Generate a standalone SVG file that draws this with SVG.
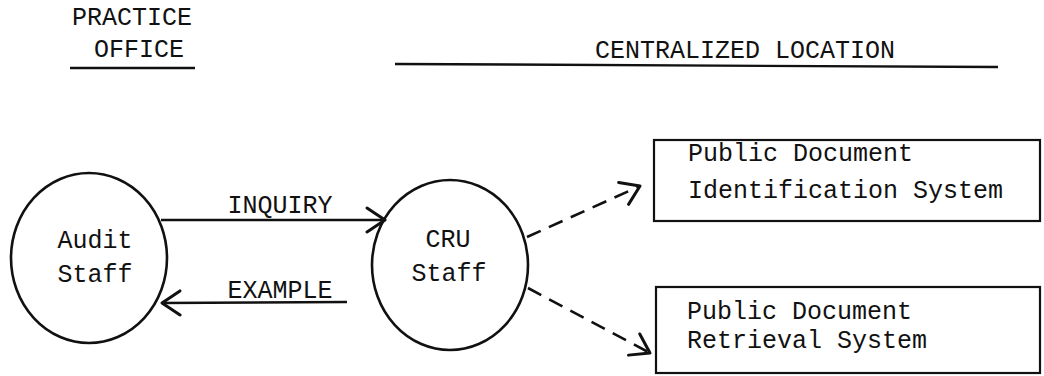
<svg xmlns="http://www.w3.org/2000/svg" width="1044" height="376" viewBox="0 0 1044 376">
<style>
text{font-family:"Liberation Mono","DejaVu Sans Mono",monospace;font-size:25px;fill:#111}
.c{text-anchor:middle}
.node{fill:#fff;stroke:#111;stroke-width:2.6}
.box{fill:#fff;stroke:#111;stroke-width:2.2}
.rule{stroke:#111;stroke-width:2.4}
.solid{fill:none;stroke:#111;stroke-width:2.6}
.dash{fill:none;stroke:#111;stroke-width:2.6;stroke-dasharray:15 9}
</style>
<defs>
<marker id="v" viewBox="-22 -14 26 28" markerWidth="26" markerHeight="28" refX="0" refY="0" orient="auto" markerUnits="userSpaceOnUse">
<path d="M-18,-12 L0,0 L-18,12" fill="none" stroke="#111" stroke-width="3" stroke-linecap="round" stroke-linejoin="round"/>
</marker>
</defs>
<rect width="1044" height="376" fill="#fff"/>
<g id="headers">
<text class="c" x="132" y="25">PRACTICE</text>
<text class="c" x="139" y="57">OFFICE</text>
<line class="rule" x1="70" y1="68" x2="195" y2="68"/>
<text x="595" y="58">CENTRALIZED LOCATION</text>
<line class="rule" x1="395" y1="64" x2="998" y2="67"/>
</g>
<g id="audit-staff">
<ellipse class="node" cx="89" cy="258" rx="78" ry="85"/>
<text class="c" x="95" y="248">Audit</text>
<text class="c" x="95" y="282">Staff</text>
</g>
<g id="cru-staff">
<ellipse class="node" cx="450" cy="265" rx="78" ry="85"/>
<text class="c" x="448" y="247">CRU</text>
<text class="c" x="449" y="281">Staff</text>
</g>
<g id="identification-system">
<rect class="box" x="654" y="140" width="386" height="81"/>
<text x="688" y="161">Public Document</text>
<text x="688" y="198">Identification System</text>
</g>
<g id="retrieval-system">
<rect class="box" x="656" y="287" width="384" height="86"/>
<text x="687" y="319">Public Document</text>
<text x="687" y="348">Retrieval System</text>
</g>
<g id="connectors">
<line class="solid" x1="161" y1="220" x2="385" y2="220" marker-end="url(#v)"/>
<text class="c" x="280" y="213">INQUIRY</text>
<line class="solid" x1="347" y1="302" x2="162" y2="303" marker-end="url(#v)"/>
<text class="c" x="280" y="298">EXAMPLE</text>
<line class="dash" x1="527" y1="237" x2="640" y2="186" marker-end="url(#v)"/>
<line class="dash" x1="528" y1="288" x2="650" y2="353" marker-end="url(#v)"/>
</g>
</svg>
